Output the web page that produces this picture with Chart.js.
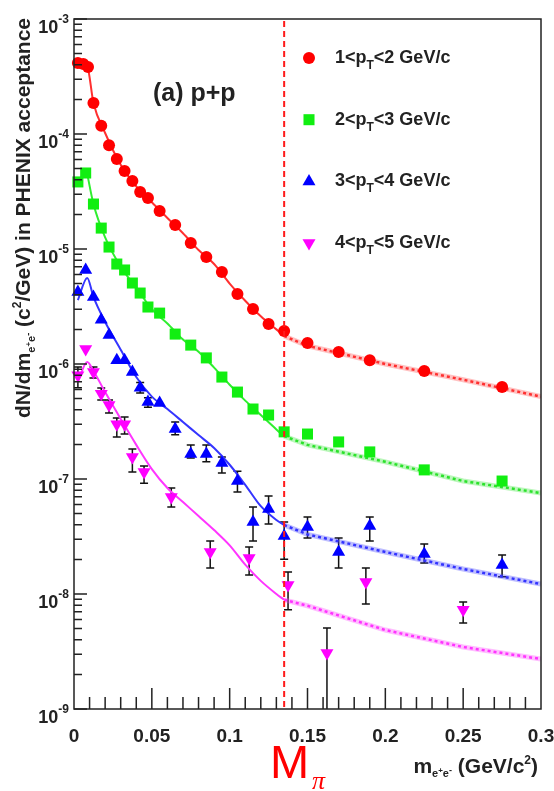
<!DOCTYPE html>
<html>
<head>
<meta charset="utf-8">
<script src="https://cdn.jsdelivr.net/npm/chart.js@4.4.1/dist/chart.umd.min.js"></script>
<style>
  html, body { margin: 0; padding: 0; background: #fff; }
  #wrap { width: 554px; height: 791px; }
</style>
</head>
<body>
<div id="wrap"><canvas id="plot" width="554" height="791"></canvas></div>
<script>
// measured points, pT bins
const redX = [0.0025, 0.006, 0.009, 0.0125, 0.0175, 0.0225, 0.0275, 0.0325, 0.0375, 0.0425, 0.0475, 0.055, 0.065, 0.075, 0.085, 0.095, 0.105, 0.115, 0.125, 0.135, 0.15, 0.17, 0.19, 0.225, 0.275];
const redY = [4.14e-4, 4.06e-4, 3.83e-4, 1.86e-4, 1.18e-4, 8.0e-5, 6.06e-5, 4.77e-5, 3.9e-5, 3.13e-5, 2.78e-5, 2.14e-5, 1.62e-5, 1.13e-5, 8.5e-6, 6.3e-6, 4.06e-6, 3.01e-6, 2.23e-6, 1.94e-6, 1.52e-6, 1.27e-6, 1.08e-6, 8.7e-7, 6.3e-7];

const binX = [0.0025, 0.0075, 0.0125, 0.0175, 0.0225, 0.0275, 0.0325, 0.0375, 0.0425, 0.0475, 0.055, 0.065, 0.075, 0.085, 0.095, 0.105, 0.115, 0.125, 0.135, 0.15, 0.17, 0.19, 0.225, 0.275];
const greenY = [3.83e-5, 4.58e-5, 2.46e-5, 1.52e-5, 1.04e-5, 7.4e-6, 6.57e-6, 5.06e-6, 4.14e-6, 3.13e-6, 2.77e-6, 1.82e-6, 1.46e-6, 1.13e-6, 7.7e-7, 5.7e-7, 4.06e-7, 3.6e-7, 2.57e-7, 2.46e-7, 2.1e-7, 1.72e-7, 1.2e-7, 9.6e-8];
const blueY = [4.23e-6, 6.56e-6, 3.83e-6, 2.42e-6, 1.79e-6, 1.08e-6, 1.08e-6, 8.5e-7, 6.2e-7, 4.67e-7, 4.58e-7, 2.72e-7, 1.65e-7, 1.65e-7, 1.38e-7, 9.6e-8, 4.23e-8, 5.48e-8, 3.19e-8, 3.83e-8, 2.32e-8, 3.9e-8, 2.23e-8, 1.79e-8];
const blueLo = [null, null, null, null, null, null, null, null, 5.6e-7, 4.2e-7, null, 2.42e-7, 1.52e-7, 1.41e-7, 1.13e-7, 7.7e-8, 2.89e-8, 4.06e-8, 2.01e-8, 3.07e-8, 1.68e-8, 2.89e-8, 1.86e-8, 1.41e-8];
const blueHi = [null, null, null, null, null, null, null, null, 6.9e-7, 5.1e-7, null, 3.13e-7, 1.98e-7, 1.98e-7, 1.55e-7, 1.17e-7, 5.7e-8, 7.1e-8, 4.23e-8, 4.68e-8, 3.07e-8, 4.68e-8, 2.72e-8, 2.18e-8];

const magX = [0.0025, 0.0075, 0.0125, 0.0175, 0.0225, 0.0275, 0.0325, 0.0375, 0.045, 0.0625, 0.0875, 0.1125, 0.1375, 0.1625, 0.1875, 0.25];
const magY = [8.0e-7, 1.35e-6, 8.5e-7, 5.5e-7, 4.4e-7, 3.0e-7, 3.0e-7, 1.55e-7, 1.15e-7, 6.97e-8, 2.32e-8, 2.06e-8, 1.2e-8, 3.07e-9, 1.27e-8, 7.3e-9];
const magLo = [6.2e-7, null, 7.55e-7, 4.87e-7, 3.75e-7, 2.32e-7, 2.46e-7, 1.15e-7, 9.2e-8, 5.7e-8, 1.68e-8, 1.46e-8, 7.3e-9, 1e-10, 8.2e-9, 5.6e-9];
const magHi = [9.4e-7, null, 9.4e-7, 6.18e-7, 4.87e-7, 3.39e-7, 3.46e-7, 1.82e-7, 1.3e-7, 8.35e-8, 2.89e-8, 2.56e-8, 1.55e-8, 5.06e-9, 1.68e-8, 8.5e-9];

// cocktail curves below and above the pion mass
const fitX = [0.0025, 0.0085, 0.0125, 0.02, 0.03, 0.04, 0.05, 0.06, 0.07, 0.08, 0.09, 0.1, 0.11, 0.12, 0.13, 0.135];
const redFit = [4.1e-4, 3.85e-4, 1.86e-4, 1.02e-4, 5.4e-5, 3.5e-5, 2.55e-5, 1.86e-5, 1.37e-5, 9.8e-6, 7.4e-6, 5.0e-6, 3.55e-6, 2.6e-6, 2.0e-6, 1.75e-6];
const greenFit = [null, 4.5e-5, 2.46e-5, 1.26e-5, 7.0e-6, 4.6e-6, 3.0e-6, 2.25e-6, 1.63e-6, 1.28e-6, 9.3e-7, 6.6e-7, 4.8e-7, 3.6e-7, 2.7e-7, 2.36e-7];
const blueFit = [3.6e-6, 5.6e-6, 3.83e-6, 2.32e-6, 1.33e-6, 7.7e-7, 5.2e-7, 4.06e-7, 3.13e-7, 2.41e-7, 1.86e-7, 1.33e-7, 8.9e-8, 5.8e-8, 4.4e-8, 3.98e-8];
const magFit = [7.0e-7, 1.04e-6, 8.7e-7, 5.7e-7, 3.33e-7, 1.98e-7, 1.22e-7, 8.35e-8, 6.3e-8, 4.77e-8, 3.6e-8, 2.65e-8, 1.8e-8, 1.3e-8, 1.0e-8, 8.9e-9];

const tailX = [0.135, 0.15, 0.2, 0.25, 0.3];
const redTail = [1.75e-6, 1.44e-6, 1.0e-6, 7.3e-7, 5.2e-7];
const greenTail = [2.36e-7, 1.98e-7, 1.41e-7, 9.6e-8, 7.55e-8];
const blueTail = [3.98e-8, 3.3e-8, 2.32e-8, 1.65e-8, 1.22e-8];
const magTail = [8.9e-9, 7.9e-9, 4.86e-9, 3.46e-9, 2.72e-9];

const mPi = 0.135;
const xTicks = [0, 0.05, 0.1, 0.15, 0.2, 0.25, 0.3];
const xTickLabels = ['0', '0.05', '0.1', '0.15', '0.2', '0.25', '0.3'];
const yExps = [-9, -8, -7, -6, -5, -4, -3];
const legendLabels = [['1', '2'], ['2', '3'], ['3', '4'], ['4', '5']];

const FONT = '"Liberation Sans", Arial, sans-serif';
const INK = '#222';

function pts(xs, ys) {
  return xs.map((x, i) => ({ x: x, y: ys[i] }));
}

function marker(label, xs, ys, s) {
  return {
    label: label, data: pts(xs, ys), order: 0, clip: false,
    pointStyle: s.style, pointRadius: s.radius, pointRotation: s.rot,
    backgroundColor: s.color, borderColor: s.color, borderWidth: 0, showLine: false
  };
}

function curve(xs, ys, color) {
  return {
    data: pts(xs, ys), order: 1, showLine: true, pointRadius: 0,
    borderColor: color, borderWidth: 2, cubicInterpolationMode: 'monotone', spanGaps: false
  };
}

function tail(xs, ys, color, halo) {
  return [
    { data: pts(xs, ys), order: 2, showLine: true, pointRadius: 0, borderColor: halo, borderWidth: 5 },
    { data: pts(xs, ys), order: 2, showLine: true, pointRadius: 0, borderColor: color, borderWidth: 2.5, borderDash: [3, 3] }
  ];
}

const series = [
  { color: '#ff0000', style: 'circle', radius: 6, rot: 0 },
  { color: '#11ee11', style: 'rect', radius: 7.8, rot: 0 },
  { color: '#0000ff', style: 'triangle', radius: 7.5, rot: 0 },
  { color: '#ff00ff', style: 'triangle', radius: 7.5, rot: 180 }
];

// text with sub/superscripts: parts = [text, size, dy]
function rich(ctx, parts, x, y, align, weight) {
  let w = 0;
  parts.forEach(p => {
    ctx.font = (weight || '') + ' ' + p[1] + 'px ' + FONT;
    w += ctx.measureText(p[0]).width;
  });
  let cx = align === 'right' ? x - w : align === 'center' ? x - w / 2 : x;
  ctx.textAlign = 'left';
  ctx.textBaseline = 'alphabetic';
  parts.forEach(p => {
    ctx.font = (weight || '') + ' ' + p[1] + 'px ' + FONT;
    ctx.fillText(p[0], cx, y + p[2]);
    cx += ctx.measureText(p[0]).width;
  });
}

const errorBars = {
  id: 'errorBars',
  beforeDatasetsDraw(chart) {
    const { ctx, chartArea: a, scales: { x, y } } = chart;
    ctx.save();
    ctx.beginPath();
    ctx.rect(a.left, a.top, a.right - a.left, a.bottom - a.top);
    ctx.clip();
    ctx.strokeStyle = '#111';
    ctx.lineWidth = 1.5;
    const sets = [[binX, blueLo, blueHi], [magX, magLo, magHi]];
    sets.forEach(([xs, lo, hi]) => {
      xs.forEach((xv, i) => {
        if (lo[i] == null) return;
        const px = x.getPixelForValue(xv);
        const p1 = y.getPixelForValue(lo[i]);
        const p2 = y.getPixelForValue(hi[i]);
        ctx.beginPath();
        ctx.moveTo(px, p1); ctx.lineTo(px, p2);
        ctx.moveTo(px - 4, p1); ctx.lineTo(px + 4, p1);
        ctx.moveTo(px - 4, p2); ctx.lineTo(px + 4, p2);
        ctx.stroke();
      });
    });
    ctx.restore();
  }
};

const frame = {
  id: 'frame',
  afterDraw(chart) {
    const { ctx, chartArea: a, scales: { x, y } } = chart;
    ctx.save();

    // pion mass marker
    ctx.strokeStyle = '#ff1a1a';
    ctx.lineWidth = 2;
    ctx.setLineDash([6, 4]);
    ctx.beginPath();
    const xm = x.getPixelForValue(mPi);
    ctx.moveTo(xm, a.top + 2); ctx.lineTo(xm, a.bottom);
    ctx.stroke();
    ctx.setLineDash([]);

    // box + ticks (ROOT style, inward)
    ctx.strokeStyle = INK;
    ctx.lineWidth = 1.5;
    ctx.strokeRect(a.left, a.top, a.right - a.left, a.bottom - a.top);
    ctx.beginPath();
    yExps.forEach(e => {
      const py = y.getPixelForValue(Math.pow(10, e));
      ctx.moveTo(a.left, py); ctx.lineTo(a.left + 13, py);
      if (e < -3) {
        for (let k = 2; k <= 9; k++) {
          const pm = y.getPixelForValue(k * Math.pow(10, e));
          ctx.moveTo(a.left, pm); ctx.lineTo(a.left + 8, pm);
        }
      }
    });
    for (let i = 1; i < 30; i++) {
      const px = x.getPixelForValue(i / 100);
      ctx.moveTo(px, a.bottom); ctx.lineTo(px, a.bottom - (i % 5 === 0 ? 21 : 12));
    }
    ctx.stroke();

    // tick labels
    ctx.fillStyle = INK;
    xTicks.forEach((v, i) => {
      ctx.font = 'bold 19px ' + FONT;
      ctx.textAlign = 'center';
      ctx.textBaseline = 'alphabetic';
      ctx.fillText(xTickLabels[i], x.getPixelForValue(v), 742);
    });
    yExps.forEach(e => {
      const py = y.getPixelForValue(Math.pow(10, e));
      rich(ctx, [['10', 18, 14], [String(e), 12, 4]], 69, py, 'right', 'bold');
    });

    // axis titles
    rich(ctx, [['m', 21, 0], ['e', 11, 4], ['+', 8, 0], ['e', 11, 4], ['-', 9, 0], [' (GeV/c', 21, 0], ['2', 12, -9], [')', 21, 0]], 538, 773, 'right', 'bold');
    ctx.save();
    ctx.translate(30, 18);
    ctx.rotate(-Math.PI / 2);
    rich(ctx, [['dN/dm', 21, 0], ['e', 11, 5], ['+', 8, 1], ['e', 11, 5], ['-', 9, 1], [' (c', 21, 0], ['2', 12, -9], ['/GeV) in PHENIX acceptance', 21, 0]], 0, 0, 'right', 'bold');
    ctx.restore();

    // panel label
    ctx.font = 'bold 25px ' + FONT;
    ctx.textAlign = 'left';
    ctx.fillText('(a) p+p', 153, 101);

    // legend
    series.forEach((s, i) => {
      const ly = 58 + i * 61.7;
      ctx.fillStyle = s.color;
      ctx.strokeStyle = s.color;
      Chart.helpers.drawPoint(ctx, { pointStyle: s.style, radius: s.radius, rotation: s.rot, borderWidth: 0 }, 309, ly);
      ctx.fillStyle = INK;
      rich(ctx, [[legendLabels[i][0] + '<p', 18, 0], ['T', 12, 6], ['<' + legendLabels[i][1] + ' GeV/c', 18, 0]], 335, ly + 5, 'left', 'bold');
    });

    // M_pi
    ctx.fillStyle = '#ff0000';
    ctx.font = '47px ' + FONT;
    ctx.textAlign = 'left';
    ctx.fillText('M', 270, 778);
    ctx.font = 'italic 26px "Liberation Serif", serif';
    ctx.fillText('\u03c0', 312, 789);
    ctx.restore();
  }
};

const datasets = [
  marker('1<pT<2', redX, redY, series[0]),
  marker('2<pT<3', binX, greenY, series[1]),
  marker('3<pT<4', binX, blueY, series[2]),
  marker('4<pT<5', magX, magY, series[3]),
  curve(fitX, redFit, '#ff3030'),
  curve(fitX, greenFit, '#30ee30'),
  curve(fitX, blueFit, '#3535ff'),
  curve(fitX, magFit, '#ff35ff'),
  ...tail(tailX, redTail, '#ff2020', 'rgba(255,80,80,0.35)'),
  ...tail(tailX, greenTail, '#22e022', 'rgba(60,230,60,0.35)'),
  ...tail(tailX, blueTail, '#2a2aff', 'rgba(70,70,255,0.35)'),
  ...tail(tailX, magTail, '#ff2aff', 'rgba(255,70,255,0.35)')
];

new Chart(document.getElementById('plot').getContext('2d'), {
  type: 'scatter',
  data: { datasets: datasets },
  options: {
    responsive: false,
    devicePixelRatio: 1,
    animation: false,
    layout: { padding: { left: 74, top: 19, right: 13, bottom: 82 } },
    scales: {
      x: { type: 'linear', min: 0, max: 0.3, display: false },
      y: { type: 'logarithmic', min: 1e-9, max: 1e-3, display: false }
    },
    plugins: { legend: { display: false }, tooltip: { enabled: false } }
  },
  plugins: [errorBars, frame]
});
</script>
</body>
</html>
